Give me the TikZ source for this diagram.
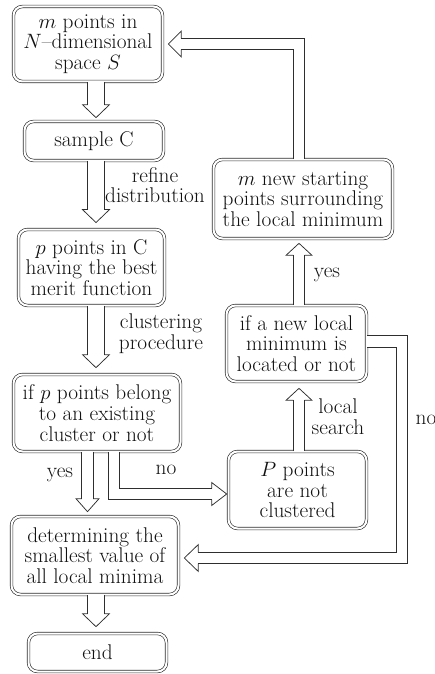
\documentclass[tikz,border=0pt]{standalone}
\usepackage{amsmath,amssymb}
\usepackage{tikz}
\usetikzlibrary{calc,positioning}
\definecolor{PaperCard}{HTML}{FFFFFF}
\definecolor{Ink}{HTML}{2E2E2E}
\definecolor{Label}{HTML}{111111}
\newcommand{\flowfont}{\fontsize{21.3}{20.7}\selectfont}

\begin{document}
\begin{tikzpicture}[x=1pt, y=-1pt,
    stepbox/.style={draw=Ink, line width=0.65pt, double=PaperCard, double distance=2pt, rounded corners=9pt, align=center, inner sep=0pt, text=Label, font=\flowfont},
    hollow/.style={draw=Ink, line width=0.75pt, double=PaperCard, double distance=#1},
    hollow/.default=10.6pt,
    tag/.style={align=center, inner sep=0pt, text=Label, font=\flowfont},
    pics/hhead/.style n args={3}{code={
      \draw[Ink, line width=0.75pt] (-#3,#1) -- (-#3,#2) -- (0,0) -- (-#3,-#2) -- (-#3,-#1);}}]
    \useasboundingbox (0,0) rectangle (435,674);
    \coordinate (lspine) at (96,0);
    \coordinate (yesx) at (87.5,0);
    \coordinate (nox) at (114,0);
    \coordinate (rspine) at (299,0);
    \coordinate (nocorner) at (402,558);
    % left column
    \node[stepbox, minimum width=149pt, minimum height=75pt] (space) at (88,44) {$m$ points in\\$N$--dimensional\\space $S$};
    \node[stepbox, minimum width=139pt, minimum height=39pt] (sample) at (94,141) {sample C};
    \node[stepbox, minimum width=146pt, minimum height=76pt] (best) at (91.5,267.5) {$p$ points in C\\having the best\\merit function};
    \node[stepbox, minimum width=167pt, minimum height=77pt] (cluster) at (97,413) {if $p$ points belong\\to an existing\\cluster or not};
    \node[stepbox, minimum width=167pt, minimum height=78pt] (minimum) at (95,555.5) {determining the\\smallest value of\\all local minima};
    \node[stepbox, minimum width=138pt, minimum height=38pt] (finish) at (97.5,652.5) {end};
    % right column
    \node[stepbox, minimum width=179pt, minimum height=79pt] (newstart) at (303,199) {$m$ new starting\\points surrounding\\the local minimum};
    \node[stepbox, minimum width=140pt, minimum height=76pt] (located) at (296.5,343.5) {if a new local\\minimum is\\located or not};
    \node[stepbox, minimum width=138pt, minimum height=77pt] (notclust) at (297.5,490) {$P$ points\\are not\\clustered};
    % main flow
    \draw[hollow=16pt, shorten >=16.5pt] (space.south -| lspine) -- (sample.north -| lspine);
    \pic[rotate=-90] at ($(sample.north -| lspine)+(0,-3.5)$) {hhead={8.35}{13.5}{13}};
    \draw[hollow=16pt, shorten >=19.6pt] (sample.south -| lspine) -- (best.north -| lspine);
    \pic[rotate=-90] at ($(best.north -| lspine)+(0,-6.6)$) {hhead={8.35}{13.5}{13}};
    \draw[hollow=16pt, shorten >=19.5pt] (best.south -| lspine) -- (cluster.north -| lspine);
    \pic[rotate=-90] at ($(cluster.north -| lspine)+(0,-6.5)$) {hhead={8.35}{13.5}{13}};
    \draw[hollow, shorten >=17.5pt] (cluster.south -| yesx) -- (minimum.north -| yesx);
    \pic[rotate=-90] at ($(minimum.north -| yesx)+(0,-4.5)$) {hhead={5.65}{11.5}{13}};
    \draw[hollow, shorten >=16.5pt] (cluster.south -| nox) |- ([yshift=-4pt]notclust.west);
    \pic at ($([yshift=-4pt]notclust.west)+(-1.5,0)$) {hhead={5.65}{11.5}{15}};
    \draw[hollow=16pt, shorten >=19.5pt] (minimum.south -| lspine) -- (finish.north -| lspine);
    \pic[rotate=-90] at ($(finish.north -| lspine)+(0,-6.5)$) {hhead={8.35}{13.5}{13}};
    % loop on the right
    \draw[hollow, shorten >=18.5pt] (notclust.north -| rspine) -- (located.south -| rspine);
    \pic[rotate=90] at ($(located.south -| rspine)+(0,6.5)$) {hhead={5.65}{13}{12}};
    \draw[hollow, shorten >=16.5pt] (located.north -| rspine) -- (newstart.south -| rspine);
    \pic[rotate=90] at ($(newstart.south -| rspine)+(0,4.5)$) {hhead={5.65}{13}{12}};
    \draw[hollow, shorten >=18.5pt] (newstart.north -| rspine) |- (space.east);
    \pic[rotate=180] at ($(space.east)+(5.5,0)$) {hhead={5.65}{13}{13}};
    \draw[hollow, shorten >=19.5pt] ([yshift=2pt]located.east) -| (nocorner) -- (minimum.east |- nocorner);
    \pic[rotate=180] at ($(minimum.east |- nocorner)+(5.5,0)$) {hhead={5.65}{13.5}{14}};
    % labels
    \node[tag] (refine) at (155,185) {refine\\distribution};
    \node[tag] (clustering) at (161,334) {clustering\\procedure};
    \node[tag] (yesleft) at (60,475) {yes};
    \node[tag] (noleft) at (166,470) {no};
    \node[tag] (yesright) at (327,275) {yes};
    \node[tag] (search) at (338,417) {local\\search};
    \node[tag] (noright) at (426,420) {no};
  \end{tikzpicture}
\end{document}
